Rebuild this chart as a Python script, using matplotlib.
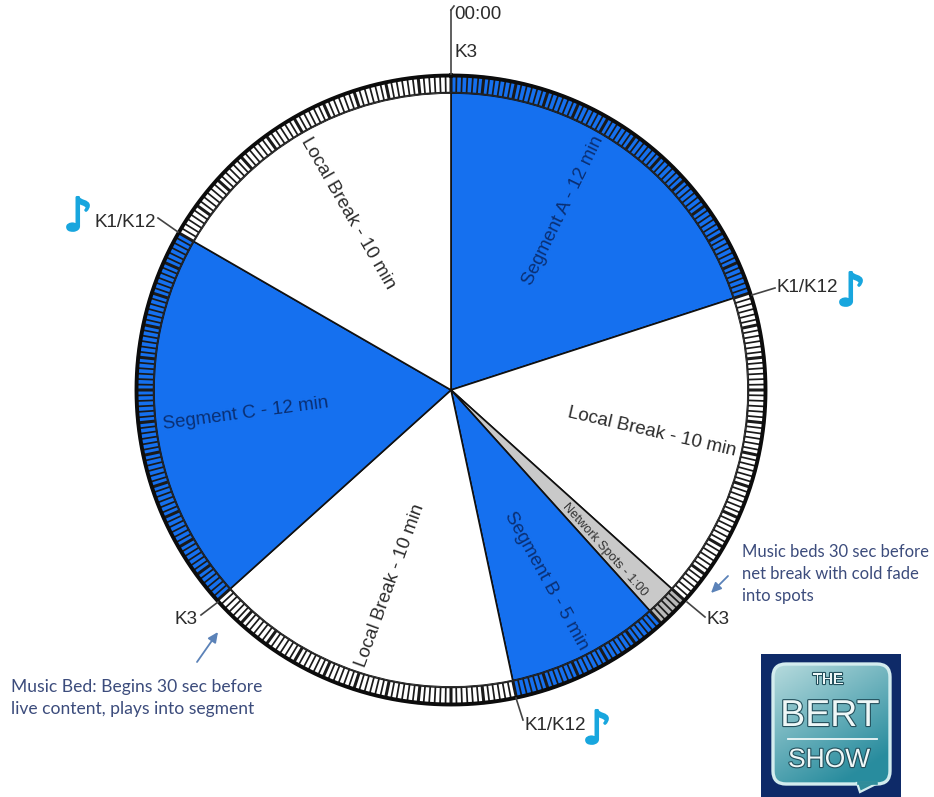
import numpy as np
import matplotlib
matplotlib.use("Agg")
import matplotlib.pyplot as plt
import matplotlib.patheffects as pe
from matplotlib.patches import FancyBboxPatch, Rectangle, Polygon

# ---- data ----
segment_labels = ["Segment A - 12 min", "Local Break - 10 min", "Network Spots - 1:00",
                  "Segment B - 5 min", "Local Break - 10 min", "Segment C - 12 min",
                  "Local Break - 10 min"]
segment_minutes = [12, 10, 1, 5, 10, 12, 10]
segment_kinds = ["live", "local", "net", "live", "local", "live", "local"]
ticks_per_hour = 360
kind_colors = {"live": "#1570ef", "local": "#ffffff", "net": "#c9c9c9"}
ring_colors = {"live": "#1570ef", "local": "#ffffff", "net": "#b8b8b8"}
label_colors = {"live": "#0a2f73", "local": "#2b2b2b", "net": "#333333"}

W, H = 934, 797
CX, CY, R, RI = 451, 390, 316, 297
fig = plt.figure(figsize=(W / 100, H / 100), dpi=100, facecolor="white")
ax = fig.add_axes([(CX - R) / W, (H - CY - R) / H, 2 * R / W, 2 * R / H], projection="polar")
ax.set_theta_zero_location("N")
ax.set_theta_direction(-1)
ax.set_rlim(0, R)
ax.set_axis_off()

to_rad = lambda m: np.asarray(m) * 2 * np.pi / 60
starts = np.concatenate([[0], np.cumsum(segment_minutes)[:-1]])
for s, d, k in zip(starts, segment_minutes, segment_kinds):
    ax.bar(to_rad(s), RI, width=to_rad(d), bottom=0, align="edge",
           color=kind_colors[k], edgecolor="#111111", linewidth=1.2, zorder=2)
    ax.bar(to_rad(s), R - RI, width=to_rad(d), bottom=RI, align="edge",
           color=ring_colors[k], edgecolor="none", linewidth=0, zorder=3)

tick_m = np.arange(ticks_per_hour) * 60 / ticks_per_hour
for i, m in enumerate(tick_m):
    ln, = ax.plot([to_rad(m)] * 2, [RI, R], color="#1a1a1a", lw=2.2 if i % 6 == 0 else 1.25,
                  solid_capstyle="butt", zorder=4)
    ln.set_snap(False)
circle = np.linspace(0, 2 * np.pi, 721)
ax.plot(circle, np.full_like(circle, R - 1.5), color="#0c0c0c", lw=2.8, zorder=5, clip_on=False)
ax.plot(circle, np.full_like(circle, RI + 0.5), color="#222222", lw=1.1, zorder=5)

# overlay in reference pixels
ov = fig.add_axes([0, 0, 1, 1], facecolor="none")
ov.set_xlim(0, W)
ov.set_ylim(H, 0)
ov.axis("off")

leaders = [((454, 6), (451, 10)), ((451, 10), (451, 74)), ((752, 295), (775, 288)),
           ((158, 218), (178, 232)), ((516, 698), (523, 720)), ((687, 602), (705, 617)),
           ((218, 602), (201, 615))]
for a, b in leaders:
    ov.plot([a[0], b[0]], [a[1], b[1]], color="#444444", lw=1.2)

sans = "Liberation Sans"
ink = "#2b2b2b"
for txt, kind, x, y, rot in zip(segment_labels, segment_kinds,
                                [563, 348, 605, 546, 390, 246, 652],
                                [211, 213, 550, 581, 586, 414, 432],
                                [64, -60, -48, -61, 70, 7.5, -13]):
    ov.text(x, y, txt, family=sans, fontsize=9.3 if "Network" in txt else 13.5,
            color=label_colors[kind], rotation=rot, rotation_mode="anchor",
            ha="center", va="center", zorder=6)

for txt, x, y in [("00:00", 454, 14), ("K3", 454, 52), ("K1/K12", 777, 287), ("K1/K12", 94, 222),
                  ("K1/K12", 525, 725), ("K3", 706, 620), ("K3", 175, 620)]:
    ov.text(x, y, txt, family=sans, fontsize=13.6, color=ink, ha="left", va="center")

note_color = "#18a6de"
for x, y in [(851, 293), (78, 218), (597, 731)]:
    ov.text(x, y, "\u266a", family="DejaVu Sans", fontsize=33, color=note_color,
            ha="center", va="center", fontweight="bold",
            path_effects=[pe.withStroke(linewidth=1.6, foreground=note_color)])

note_ink = "#3c4c7c"
ann = "Lato"
for txt, x, y, fs in [("Music beds 30 sec before", 742, 552, 12), ("net break with cold fade", 742, 574, 12),
                      ("into spots", 742, 596, 12), ("Music Bed: Begins 30 sec before", 11, 687, 12.6),
                      ("live content, plays into segment", 11, 709, 12.6)]:
    ov.text(x, y, txt, family=ann, fontsize=fs, color=note_ink, ha="left", va="center")

for a, b in [((728, 576), (711, 593)), ((197, 662), (218, 632))]:
    ov.annotate("", xy=b, xytext=a,
                arrowprops=dict(arrowstyle="-|>,head_width=0.28,head_length=0.6",
                                color="#5b82b8", lw=1.3, shrinkA=0, shrinkB=0))

# logo
ov.add_patch(Rectangle((761, 654), 140, 143, facecolor="#0e2a68", edgecolor="none", zorder=6))
box = FancyBboxPatch((773, 664), 117, 120, boxstyle="round,pad=0,rounding_size=13",
                     facecolor="none", edgecolor="#d3ecee", linewidth=2.4, zorder=8)
gy, gx = np.mgrid[0:1:64j, 0:1:64j]
t = np.clip(0.75 * gy + 0.45 * gx, 0, 1)[..., None]
c0 = np.array([0.72, 0.86, 0.87])
c1 = np.array([0.16, 0.55, 0.62])
im = ov.imshow(c0 * (1 - t) + c1 * t, extent=(772, 891, 785, 663), aspect="auto", zorder=7)
ov.add_patch(box)
im.set_clip_path(box)
ov.add_patch(Polygon([[857, 783], [860, 792], [878, 783]], closed=True, facecolor="#2f8c9a",
                     edgecolor="#d3ecee", linewidth=1.6, zorder=8))
ov.plot([858.5, 876], [783, 783], color="#2f8c9a", lw=2.6, zorder=8)
ov.set_xlim(0, W)
ov.set_ylim(H, 0)
shadow = [pe.withStroke(linewidth=1.6, foreground="#24505c")]
for txt, x, y, fs in [("THE", 828, 680, 11), ("BERT", 830, 716, 27), ("SHOW", 829, 760, 19)]:
    ov.text(x, y, txt, family=sans, fontsize=fs, color="#eef7f7", ha="center", va="center",
            zorder=9, path_effects=shadow)
ov.plot([788, 877], [739, 739], color="#eef7f7", lw=1.3, zorder=9)

fig.savefig("out.png", dpi=100)
